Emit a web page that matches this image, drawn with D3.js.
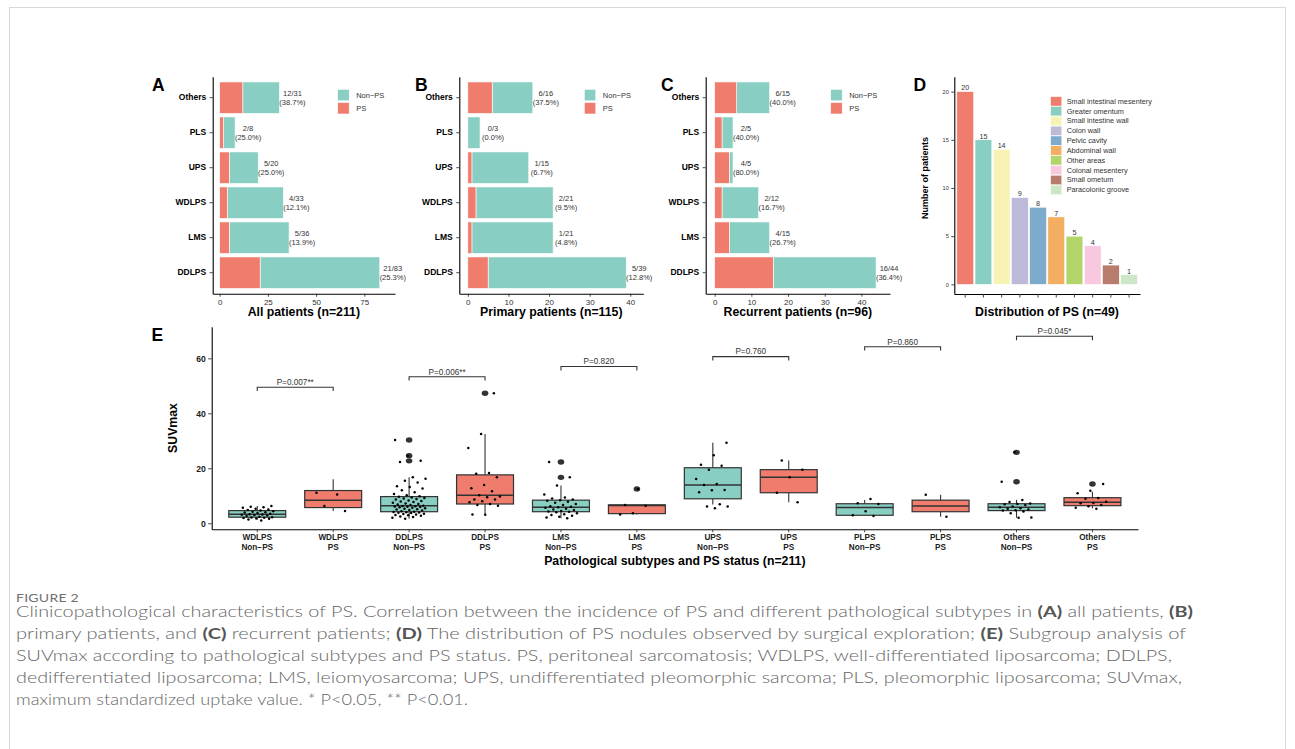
<!DOCTYPE html>
<html>
<head>
<meta charset="utf-8">
<script src="https://cdn.jsdelivr.net/npm/d3@7"></script>
<style>
  html, body { margin: 0; padding: 0; background: #fff; }
  svg { display: block; }
</style>
</head>
<body>
<svg id="fig" width="1295" height="749"></svg>
<script>
// ---------- Panels A–C: PS incidence by pathological subtype ----------
const subtypes = ["DDLPS", "LMS", "WDLPS", "UPS", "PLS", "Others"]; // bottom to top
const allPS = [21, 5, 4, 5, 2, 12];
const allTotal = [83, 36, 33, 20, 8, 31];
const primaryPS = [5, 1, 2, 1, 0, 6];
const primaryTotal = [39, 21, 21, 15, 3, 16];
const recurrentPS = [16, 4, 2, 4, 2, 6];
const recurrentTotal = [44, 15, 12, 5, 5, 15];
const allTicks = [0, 25, 50, 75];
const primaryTicks = [0, 10, 20, 30, 40];
const recurrentTicks = [0, 10, 20, 30, 40];

// ---------- Panel D: location of PS nodules ----------
const siteNames = ["Small intestinal mesentery", "Greater omentum", "Small intestine wall", "Colon wall",
  "Pelvic cavity", "Abdominal wall", "Other areas", "Colonal mesentery", "Small ometum", "Paracolonic groove"];
const siteCounts = [20, 15, 14, 9, 8, 7, 5, 4, 2, 1];
const siteTicks = [0, 5, 10, 15, 20];

// ---------- Panel E: SUVmax by subtype and PS status ----------
const groupSubtypes = ["WDLPS", "DDLPS", "LMS", "UPS", "PLPS", "Others"];
const psStatus = ["Non\u2212PS", "PS"];
const suvWDLPSNon = [1.0, 1.4, 1.6, 1.7, 1.9, 2.0, 2.1, 2.2, 2.4, 2.6, 2.8, 3.0, 3.1, 3.2, 3.3, 3.5, 3.7, 3.9, 4.0, 4.2, 4.4, 4.6, 4.8, 5.0, 5.3, 5.6, 5.8, 6.0, 6.3];
const suvWDLPSPS = [11.1, 10.5, 6.3, 4.5];
const suvDDLPSNon = [1.6, 2.0, 2.3, 2.5, 2.7, 2.9, 3.0, 3.2, 3.4, 3.5, 3.7, 3.8, 3.9, 4.0, 4.1,
  4.2, 4.4, 4.6, 4.8, 5.0, 5.1, 5.3, 5.5, 5.6, 5.8, 5.9, 6.0, 6.1, 6.2, 6.3,
  6.4, 6.6, 6.8, 7.0, 7.2, 7.5, 7.7, 7.9, 8.1, 8.3, 8.6, 8.8, 9.0, 9.2, 9.4, 9.6,
  9.8, 10.2, 10.6, 11.3, 12.0, 12.6, 13.2, 13.5, 14.8, 15.5, 16.2, 16.7,
  22.3, 22.7, 24.6, 30.3];
const suvDDLPSPS = [47.3, 32.5, 27.4, 18.3, 18.0, 16.7, 13.9, 12.7, 11.6, 10.2, 9.7, 9.5, 8.6, 8.6, 8.0, 7.6, 7.0, 6.6, 6.4, 3.1, 3.2];
const suvLMSNon = [22.3, 16.7, 13.7, 10.5, 9.4, 9.0, 8.6, 8.4, 8.2, 7.8, 7.5, 7.0, 6.6, 6.2, 6.0, 5.8, 5.6, 5.3, 5.0, 4.8, 4.5, 4.3, 4.2, 4.0, 3.6, 3.3, 3.0, 2.7, 2.4, 2.1, 1.8];
const suvLMSPS = [12.5, 6.6, 6.4, 3.6, 3.2];
const suvUPSNon = [29.3, 24.7, 21.3, 20.9, 19.5, 16.1, 14.3, 13.9, 12.1, 12.0, 11.3, 6.9, 6.1, 6.1, 5.5];
const suvUPSPS = [22.8, 19.5, 16.7, 11.1, 7.6];
const suvPLPSNon = [8.8, 7.3, 7.0, 4.4, 2.9, 2.6];
const suvPLPSPS = [10.4, 2.4];
const suvOthersNon = [25.8, 15.1, 8.5, 7.7, 7.2, 7.0, 6.9, 6.6, 6.1, 5.8, 5.5, 5.3, 5.0, 4.7, 4.6, 4.3, 3.6, 2.1, 2.0];
const suvOthersPS = [14.3, 11.8, 10.9, 9.2, 8.9, 7.8, 7.4, 7.3, 6.6, 6.2, 5.6, 5.3];

// box-plot summaries (same group order)
const boxQ1 = [2.2, 5.7, 4.2, 7.0, 4.2, 3.5, 8.9, 11.1, 2.9, 4.2, 4.6, 6.4];
const boxMedian = [3.3, 8.4, 6.4, 10.2, 5.8, 6.5, 13.9, 16.7, 5.7, 6.3, 5.8, 7.6];
const boxQ3 = [4.6, 11.9, 9.7, 17.6, 8.4, 6.7, 20.2, 19.5, 7.1, 8.4, 7.1, 9.3];
const whiskerLow = [1.4, 4.5, 1.6, 3.1, 1.8, 3.2, 6.8, 7.6, 2.7, 2.4, 2.0, 5.5];
const whiskerHigh = [6.3, 16.0, 16.7, 32.5, 13.7, 6.7, 29.3, 22.8, 8.5, 10.4, 8.5, 11.5];
const boxOutliers = [[], [], [30.3, 24.6, 22.7], [47.3], [22.3, 16.7], [12.5], [], [], [], [], [25.8, 15.1], [14.3]];

const pLabels = ["P=0.007**", "P=0.006**", "P=0.820", "P=0.760", "P=0.860", "P=0.045*"];
const bracketHeights = [49.5, 53.3, 57.0, 60.6, 64.2, 68.0];
const suvTicks = [0, 20, 40, 60];

// ---------- caption ----------
const figureLabel = "FIGURE 2";
const captionLines = [
  [["Clinicopathological characteristics of PS. Correlation between the incidence of PS and different pathological subtypes in ", 0], ["(A)", 1], [" all patients, ", 0], ["(B)", 1]],
  [["primary patients, and ", 0], ["(C)", 1], [" recurrent patients; ", 0], ["(D)", 1], [" The distribution of PS nodules observed by surgical exploration; ", 0], ["(E)", 1], [" Subgroup analysis of", 0]],
  [["SUVmax according to pathological subtypes and PS status. PS, peritoneal sarcomatosis; WDLPS, well-differentiated liposarcoma; DDLPS,", 0]],
  [["dedifferentiated liposarcoma; LMS, leiomyosarcoma; UPS, undifferentiated pleomorphic sarcoma; PLS, pleomorphic liposarcoma; SUVmax,", 0]],
  [["maximum standardized uptake value. * P<0.05, ** P<0.01.", 0]]
];

// ================= drawing =================
const TEAL = "#89CEC2", RED = "#EF7C6D", INK = "#333333";
const sitePalette = ["#EF7C6D", "#89CEC2", "#F6F3B5", "#BDB9D8", "#7EAACC", "#F3AE62", "#B2D56B", "#F8C9DE", "#B87C6C", "#CDE6C6"];
const FONT = "'Liberation Sans', Arial, Helvetica, sans-serif";

const svg = d3.select("#fig").attr("font-family", FONT);

// page frame
svg.append("rect")
  .attr("x", 9.5).attr("y", 7.5).attr("width", 1276).attr("height", 800)
  .attr("fill", "none").attr("stroke", "#d9d9d9").attr("stroke-width", 1);

function styleAxis(g, opts) {
  g.select(".domain").attr("stroke", "#000").attr("stroke-width", 1.1);
  g.selectAll(".tick line").attr("stroke", INK).attr("stroke-width", 0.9);
  g.selectAll(".tick text")
    .attr("fill", opts.color || INK)
    .attr("font-size", opts.size)
    .attr("font-weight", opts.bold ? "bold" : "normal")
    .attr("font-family", FONT);
}

function panelLetter(letter, x, y) {
  svg.append("text").attr("x", x).attr("y", y).text(letter)
    .attr("font-size", 17.5).attr("font-weight", "bold").attr("fill", "#000");
}

// ---- stacked horizontal bar panels ----
function stackedPanel(cfg) {
  const g = svg.append("g");
  const x = d3.scaleLinear().domain(cfg.xDomain).range(cfg.xRange);
  const y = d3.scaleBand().domain(subtypes.slice().reverse())
    .range([76.7, 293.7]).paddingInner(0.1).paddingOuter(0.15);
  const rows = subtypes.map((s, i) => ({ s, ps: cfg.ps[i], total: cfg.total[i] }));

  // Non-PS part
  g.selectAll("rect.non").data(rows).join("rect").attr("class", "non")
    .attr("x", d => x(d.ps)).attr("y", d => y(d.s))
    .attr("width", d => x(d.total) - x(d.ps)).attr("height", y.bandwidth())
    .attr("fill", TEAL).attr("stroke", "#fff").attr("stroke-width", 0.6);
  // PS part
  g.selectAll("rect.ps").data(rows.filter(d => d.ps > 0)).join("rect").attr("class", "ps")
    .attr("x", x(0)).attr("y", d => y(d.s))
    .attr("width", d => x(d.ps) - x(0)).attr("height", y.bandwidth())
    .attr("fill", RED).attr("stroke", "#fff").attr("stroke-width", 0.6);

  // count / percentage labels
  const lab = g.selectAll("text.lab").data(rows).join("text").attr("class", "lab")
    .attr("text-anchor", "middle").attr("font-size", 7.5).attr("fill", INK);
  lab.append("tspan")
    .attr("x", d => x(d.total) + 13).attr("y", d => y(d.s) + y.bandwidth() / 2 - 1.6)
    .text(d => `${d.ps}/${d.total}`);
  lab.append("tspan")
    .attr("x", d => x(d.total) + 13).attr("y", d => y(d.s) + y.bandwidth() / 2 + 6.9)
    .text(d => `(${(100 * d.ps / d.total).toFixed(1)}%)`);

  // axes
  const ax = g.append("g").attr("transform", "translate(0,293.7)")
    .call(d3.axisBottom(x).tickValues(cfg.ticks).tickSize(3).tickSizeOuter(0).tickPadding(2.5));
  styleAxis(ax, { size: 8 });
  const ay = g.append("g").attr("transform", `translate(${cfg.xRange[0]},0)`)
    .call(d3.axisLeft(y).tickSize(3).tickSizeOuter(0).tickPadding(3.5));
  styleAxis(ay, { size: 8.5, bold: true, color: "#000" });

  // legend
  const lx = cfg.xRange[0] + 125;
  [["Non\u2212PS", TEAL], ["PS", RED]].forEach(([t, c], i) => {
    g.append("rect").attr("x", lx).attr("y", 89.3 + i * 13.2).attr("width", 11.5).attr("height", 11.5)
      .attr("fill", c).attr("stroke", "#fff").attr("stroke-width", 0.6);
    g.append("text").attr("x", lx + 18.5).attr("y", 89.3 + i * 13.2 + 8.5).text(t)
      .attr("font-size", 7.5).attr("fill", INK);
  });

  // title
  g.append("text").attr("x", (cfg.xRange[0] + cfg.xRange[1]) / 2).attr("y", 316.3)
    .attr("text-anchor", "middle").attr("font-size", 12.3).attr("font-weight", "bold")
    .attr("fill", "#000").text(cfg.title);
  panelLetter(cfg.letter, cfg.letterX, 90.8);
}

stackedPanel({ ps: allPS, total: allTotal, xDomain: [-3.6, 90.9], xRange: [212.7, 395],
  ticks: allTicks, title: "All patients (n=211)", letter: "A", letterX: 152 });
stackedPanel({ ps: primaryPS, total: primaryTotal, xDomain: [-2.1, 43.2], xRange: [459.3, 643.3],
  ticks: primaryTicks, title: "Primary patients (n=115)", letter: "B", letterX: 415 });
stackedPanel({ ps: recurrentPS, total: recurrentTotal, xDomain: [-2.45, 47.8], xRange: [705.7, 890],
  ticks: recurrentTicks, title: "Recurrent patients (n=96)", letter: "C", letterX: 661 });

// ---- Panel D: PS distribution ----
(function () {
  const g = svg.append("g");
  const x = d3.scaleBand().domain(siteNames).range([954.3, 1140]).paddingInner(0.08).paddingOuter(0.14);
  const y = d3.scaleLinear().domain([-1, 21.55]).range([294, 76.7]);
  const rows = siteNames.map((n, i) => ({ n, v: siteCounts[i], c: sitePalette[i] }));

  g.selectAll("rect.bar").data(rows).join("rect").attr("class", "bar")
    .attr("x", d => x(d.n)).attr("y", d => y(d.v))
    .attr("width", x.bandwidth()).attr("height", d => y(0) - y(d.v))
    .attr("fill", d => d.c).attr("stroke", "#fff").attr("stroke-width", 0.5);
  g.selectAll("text.val").data(rows).join("text").attr("class", "val")
    .attr("x", d => x(d.n) + x.bandwidth() / 2).attr("y", d => y(d.v) - 1.2)
    .attr("text-anchor", "middle").attr("font-size", 7.2).attr("fill", INK).text(d => d.v);

  const ax = g.append("g").attr("transform", "translate(0,294)")
    .call(d3.axisBottom(x).tickSize(3.5).tickSizeOuter(0).tickFormat(""));
  styleAxis(ax, { size: 6 });
  const ay = g.append("g").attr("transform", "translate(954.3,0)")
    .call(d3.axisLeft(y).tickValues(siteTicks).tickSize(3).tickSizeOuter(0).tickPadding(2.5));
  styleAxis(ay, { size: 5.6 });

  g.append("text").attr("transform", "translate(928,178) rotate(-90)")
    .attr("text-anchor", "middle").attr("font-size", 9).attr("font-weight", "bold")
    .attr("fill", "#000").text("Number of patients");

  rows.forEach((d, i) => {
    const yy = 96.7 + i * 9.83;
    g.append("rect").attr("x", 1050.7).attr("y", yy).attr("width", 11).attr("height", 9.3)
      .attr("fill", d.c).attr("stroke", "#fff").attr("stroke-width", 0.4);
    g.append("text").attr("x", 1066.7).attr("y", yy + 7.1).attr("font-size", 7.3)
      .attr("fill", INK).text(d.n);
  });

  g.append("text").attr("x", 1047).attr("y", 316).attr("text-anchor", "middle")
    .attr("font-size", 12.3).attr("font-weight", "bold").attr("fill", "#000")
    .text("Distribution of PS (n=49)");
  panelLetter("D", 913.5, 90.8);
})();

// ---- Panel E: SUVmax box plots ----
(function () {
  const g = svg.append("g");
  const suvGroups = [suvWDLPSNon, suvWDLPSPS, suvDDLPSNon, suvDDLPSPS, suvLMSNon, suvLMSPS,
    suvUPSNon, suvUPSPS, suvPLPSNon, suvPLPSPS, suvOthersNon, suvOthersPS];
  const keys = [];
  groupSubtypes.forEach(s => psStatus.forEach(p => keys.push(s + "|" + p)));
  const x = d3.scaleBand().domain(keys).range([211.7, 1138]).paddingInner(0).paddingOuter(0.1);
  const y = d3.scaleLinear().domain([-2.2, 71.5]).range([529.3, 326.7]);
  const bw = x.step() * 0.75;
  const cx = k => x(k) + x.bandwidth() / 2;

  const boxes = keys.map((k, i) => ({
    k, fill: k.endsWith("|PS") ? RED : TEAL,
    q1: boxQ1[i], med: boxMedian[i], q3: boxQ3[i], lo: whiskerLow[i], hi: whiskerHigh[i],
    out: boxOutliers[i], pts: suvGroups[i], gi: i
  }));

  const bg = g.selectAll("g.box").data(boxes).join("g").attr("class", "box");
  bg.append("line").attr("x1", d => cx(d.k)).attr("x2", d => cx(d.k))
    .attr("y1", d => y(d.q3)).attr("y2", d => y(d.hi)).attr("stroke", INK).attr("stroke-width", 1.1);
  bg.append("line").attr("x1", d => cx(d.k)).attr("x2", d => cx(d.k))
    .attr("y1", d => y(d.q1)).attr("y2", d => y(d.lo)).attr("stroke", INK).attr("stroke-width", 1.1);
  bg.append("rect").attr("x", d => cx(d.k) - bw / 2).attr("width", bw)
    .attr("y", d => y(d.q3)).attr("height", d => y(d.q1) - y(d.q3))
    .attr("fill", d => d.fill).attr("stroke", INK).attr("stroke-width", 1.2);
  bg.append("line").attr("x1", d => cx(d.k) - bw / 2).attr("x2", d => cx(d.k) + bw / 2)
    .attr("y1", d => y(d.med)).attr("y2", d => y(d.med)).attr("stroke", INK).attr("stroke-width", 1.5);
  bg.selectAll("ellipse").data(d => d.out.map(v => ({ v, k: d.k }))).join("ellipse")
    .attr("cx", d => cx(d.k)).attr("cy", d => y(d.v)).attr("rx", 3.3).attr("ry", 2.7)
    .attr("fill", INK);

  // jittered observations (deterministic horizontal spread)
  const spread = (i, gi) => {
    const f = ((i + 1) * 0.6180339887 + gi * 0.3819660113) % 1;
    return (f - 0.5) * 2 * 0.22 * x.step();
  };
  bg.selectAll("circle").data(d => d.pts.map((v, i) => ({ v, i, k: d.k, gi: d.gi }))).join("circle")
    .attr("cx", d => cx(d.k) + spread(d.i, d.gi)).attr("cy", d => y(d.v))
    .attr("r", 1.25).attr("fill", "#000");

  // significance brackets
  pLabels.forEach((lab, j) => {
    const a = cx(keys[2 * j]), b = cx(keys[2 * j + 1]);
    const yy = y(bracketHeights[j]), tip = y(bracketHeights[j] - 1.4);
    g.append("path").attr("d", `M${a},${tip}V${yy}H${b}V${tip}`)
      .attr("fill", "none").attr("stroke", INK).attr("stroke-width", 1.1);
    g.append("text").attr("x", (a + b) / 2).attr("y", yy - 2.2).attr("text-anchor", "middle")
      .attr("font-size", 8.2).attr("fill", INK).text(lab);
  });

  // axes
  const ax = g.append("g").attr("transform", "translate(0,529.3)")
    .call(d3.axisBottom(x).tickSize(3).tickSizeOuter(0).tickFormat(""));
  styleAxis(ax, { size: 8 });
  keys.forEach(k => {
    const [s, p] = k.split("|");
    const t = g.append("text").attr("text-anchor", "middle").attr("font-size", 8.2)
      .attr("font-weight", "bold").attr("fill", "#222");
    t.append("tspan").attr("x", cx(k)).attr("y", 539.6).text(s);
    t.append("tspan").attr("x", cx(k)).attr("y", 549.9).text(p);
  });
  const ay = g.append("g").attr("transform", "translate(211.7,0)")
    .call(d3.axisLeft(y).tickValues(suvTicks).tickSize(3.5).tickSizeOuter(0).tickPadding(2.5));
  styleAxis(ay, { size: 8.6, bold: true, color: "#222" });

  g.append("text").attr("transform", "translate(177,428) rotate(-90)")
    .attr("text-anchor", "middle").attr("font-size", 12.3).attr("font-weight", "bold")
    .attr("fill", "#000").text("SUVmax");
  g.append("text").attr("x", (211.7 + 1138) / 2).attr("y", 564.6).attr("text-anchor", "middle")
    .attr("font-size", 12.3).attr("font-weight", "bold").attr("fill", "#000")
    .text("Pathological subtypes and PS status (n=211)");
  panelLetter("E", 151.5, 340.5);
})();

// ---- caption ----
(function () {
  const CAP = "Lato, 'Open Sans', sans-serif";
  svg.append("text").attr("x", 16).attr("y", 601.5).attr("font-family", CAP)
    .attr("font-size", 11.5).attr("fill", "#707070").attr("letter-spacing", 0.2)
    .attr("textLength", 63).attr("lengthAdjust", "spacingAndGlyphs").text(figureLabel);
  const lineEnds = [1193, 1186, 1172, 1182, 468];
  captionLines.forEach((segs, i) => {
    const t = svg.append("text").attr("x", 16).attr("y", 617 + i * 22)
      .attr("font-family", CAP).attr("font-size", 15.5).attr("font-weight", 300)
      .attr("fill", "#666666")
      .attr("textLength", lineEnds[i] - 16).attr("lengthAdjust", "spacingAndGlyphs");
    segs.forEach(([s, b]) => {
      t.append("tspan").text(s).attr("font-weight", b ? "bold" : 300)
        .attr("fill", b ? "#555555" : "#666666");
    });
  });
})();
</script>
</body>
</html>
